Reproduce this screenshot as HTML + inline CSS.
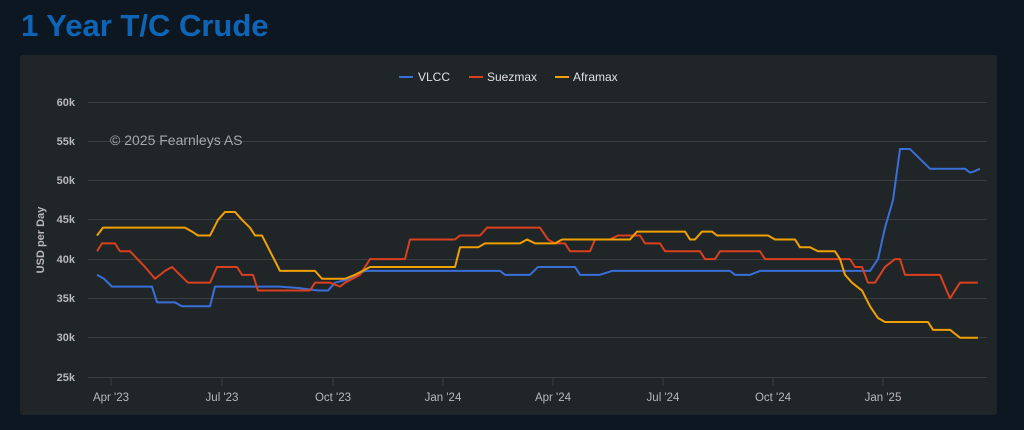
<!DOCTYPE html>
<html><head><meta charset="utf-8"><style>
html,body{margin:0;padding:0;width:1024px;height:430px;background:#0c1721;overflow:hidden;font-family:"Liberation Sans",sans-serif}
</style></head><body>
<svg width="1024" height="430" xmlns="http://www.w3.org/2000/svg" style="position:absolute;left:0;top:0">
<rect width="1024" height="430" fill="#0c1721"/>
<text x="21" y="36" font-size="31" font-weight="bold" fill="#0f65b5" font-family="Liberation Sans, sans-serif">1 Year T/C Crude</text>
<rect x="20" y="55" width="977" height="360" rx="3" fill="#202528"/>
<g font-size="12" fill="#e0e0e0">
<line x1="399" y1="77" x2="413" y2="77" stroke="#3a6fd8" stroke-width="2"/><text x="418" y="81">VLCC</text>
<line x1="469" y1="77" x2="483" y2="77" stroke="#d9401e" stroke-width="2"/><text x="487" y="81">Suezmax</text>
<line x1="555" y1="77" x2="569" y2="77" stroke="#f0a000" stroke-width="2"/><text x="573" y="81">Aframax</text>
</g>
<g stroke="#3a3e42" stroke-width="1">
<line x1="88" x2="987" y1="102.5" y2="102.5"/><line x1="88" x2="987" y1="141.5" y2="141.5"/>
<line x1="88" x2="987" y1="180.5" y2="180.5"/><line x1="88" x2="987" y1="219.5" y2="219.5"/>
<line x1="88" x2="987" y1="259.5" y2="259.5"/><line x1="88" x2="987" y1="298.5" y2="298.5"/>
<line x1="88" x2="987" y1="337.5" y2="337.5"/><line x1="88" x2="987" y1="377.5" y2="377.5"/>
<line x1="111" x2="111" y1="378" y2="386"/><line x1="222" x2="222" y1="378" y2="386"/>
<line x1="333" x2="333" y1="378" y2="386"/><line x1="443" x2="443" y1="378" y2="386"/>
<line x1="553" x2="553" y1="378" y2="386"/><line x1="663" x2="663" y1="378" y2="386"/>
<line x1="773" x2="773" y1="378" y2="386"/><line x1="883" x2="883" y1="378" y2="386"/>
</g>
<g font-size="11" font-weight="bold" fill="#b8b8b8" text-anchor="end">
<text x="75" y="106">60k</text><text x="75" y="145">55k</text><text x="75" y="184">50k</text>
<text x="75" y="223">45k</text><text x="75" y="263">40k</text><text x="75" y="302">35k</text>
<text x="75" y="341">30k</text><text x="75" y="381">25k</text>
</g>
<text transform="translate(44,240) rotate(-90)" font-size="11" font-weight="bold" fill="#b8b8b8" text-anchor="middle">USD per Day</text>
<g font-size="11.5" fill="#b8b8b8" text-anchor="middle">
<text x="111" y="401">Apr '23</text><text x="222" y="401">Jul '23</text><text x="333" y="401">Oct '23</text>
<text x="443" y="401">Jan '24</text><text x="553" y="401">Apr '24</text><text x="663" y="401">Jul '24</text>
<text x="773" y="401">Oct '24</text><text x="883" y="401">Jan '25</text>
</g>
<text x="110" y="145" font-size="14" fill="#a8a8a8">© 2025 Fearnleys AS</text>
<g transform="translate(0,377) scale(1,-7.86) translate(0,-25)" fill="none" stroke-width="2" stroke-linejoin="round">
<polyline vector-effect="non-scaling-stroke" stroke="#3a6fd8" points="97,38 104,37.5 112,36.5 152,36.5 157,34.5 175,34.5 182,34 210,34 215,36.5 280,36.5 300,36.3 318,36 328,36 335,37 350,37.5 365,38.5 500,38.5 505,38 530,38 538,39 575,39 580,38 600,38 612,38.5 730,38.5 735,38 750,38 760,38.5 870,38.5 878,40 885,44 893,47.5 900,54 910,54 918,53 930,51.5 965,51.5 970,51 975,51.2 980,51.5"/>
<polyline vector-effect="non-scaling-stroke" stroke="#d9401e" points="97,41 102,42 115,42 120,41 130,41 145,39 155,37.5 165,38.5 172,39 180,38 188,37 210,37 217,39 237,39 242,38 253,38 258,36 310,36 315,37 330,37 340,36.5 345,37 360,38 370,40 405,40 410,42.5 455,42.5 460,43 480,43 487,44 540,44 548,42.5 555,42 565,42 570,41 590,41 595,42.5 610,42.5 618,43 640,43 645,42 660,42 665,41 700,41 705,40 715,40 720,41 760,41 765,40 850,40 855,39 862,39 868,37 875,37 885,39 895,40 900,40 905,38 935,38 940,38 945,36.5 950,35 955,36 960,37 978,37"/>
<polyline vector-effect="non-scaling-stroke" stroke="#f0a000" points="97,43 103,44 185,44 192,43.5 198,43 210,43 218,45 225,46 235,46 242,45 250,44 255,43 262,43 270,41 280,38.5 315,38.5 322,37.5 345,37.5 355,38 370,39 455,39 460,41.5 478,41.5 485,42 520,42 527,42.5 535,42 555,42 562,42.5 630,42.5 637,43.5 685,43.5 690,42.5 695,42.5 702,43.5 712,43.5 717,43 768,43 775,42.5 795,42.5 800,41.5 810,41.5 818,41 835,41 840,40 845,38 852,37 862,36 870,34 878,32.5 885,32 928,32 933,31 950,31 955,30.5 960,30 978,30"/>
</g>
</svg>
</body></html>
